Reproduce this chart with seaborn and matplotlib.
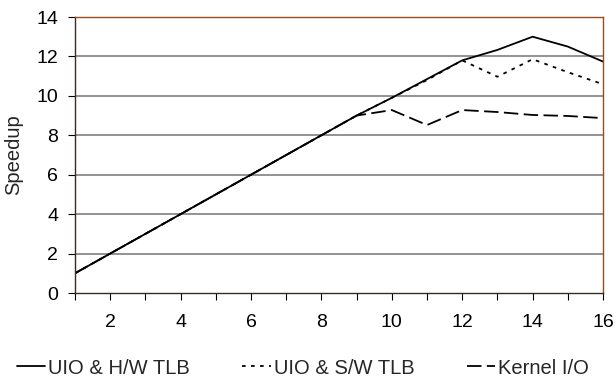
import numpy as np
import pandas as pd
import matplotlib.pyplot as plt
import seaborn as sns

# Data
threads = list(range(1, 17))
hw_tlb = [1, 2, 3, 4, 5, 6, 7, 8, 9, 9.9, 10.85, 11.8, 12.33, 13.0, 12.5, 11.74]
sw_tlb = [1, 2, 3, 4, 5, 6, 7, 8, 9, 9.9, 10.8, 11.8, 10.97, 11.86, 11.2, 10.59]
kernel_io = [1, 2, 3, 4, 5, 6, 7, 8, 9, 9.28, 8.52, 9.28, 9.18, 9.03, 8.98, 8.87]
series_names = ["UIO & H/W TLB", "UIO & S/W TLB", "Kernel I/O"]

df = pd.DataFrame({
    "threads": threads * 3,
    "speedup": hw_tlb + sw_tlb + kernel_io,
    "series": np.repeat(series_names, len(threads)),
})

sns.set_theme(style="white")
plt.rcParams['font.family'] = ['Liberation Sans', 'DejaVu Sans']

fig = plt.figure(figsize=(6.16, 3.81), dpi=100)
ax = fig.add_axes([75 / 616, 88 / 381, 528 / 616, 276 / 381])

# horizontal grid lines
for yv in range(2, 14, 2):
    ax.axhline(yv, color="#808080", linewidth=1.2, zorder=0)

sns.lineplot(
    data=df, x="threads", y="speedup", hue="series", style="series",
    palette={n: "black" for n in series_names},
    dashes={"UIO & H/W TLB": "", "UIO & S/W TLB": (2, 3), "Kernel I/O": (8, 3)},
    linewidth=1.3, ax=ax, legend=True,
)

ax.set_xlim(1, 16)
ax.set_ylim(0, 14)
ax.set_xticks(range(1, 17))
ax.set_xticklabels([str(t) if t % 2 == 0 else "" for t in threads])
ax.set_yticks(range(0, 15, 2))
ax.tick_params(axis="both", direction="out", length=5, width=0.8, colors="black",
               labelsize=14, bottom=True, left=True)
ax.tick_params(axis="x", pad=10)
ax.tick_params(axis="y", pad=7)
ax.set_xlabel("")
ax.set_ylabel("Speedup", fontsize=14.5)
ax.yaxis.set_label_coords(-0.0985, 0.5)

ax.spines["left"].set_color("#3a2a20")
ax.spines["bottom"].set_color("#3a2a20")
ax.spines["top"].set_color("#9c4a1a")
ax.spines["right"].set_color("#9c4a1a")
for s in ax.spines.values():
    s.set_linewidth(1.0)

handles, labels = ax.get_legend_handles_labels()
ax.get_legend().remove()
fig.legend(handles, labels, ncol=3, frameon=False, loc="center left",
           bbox_to_anchor=(17 / 616, 13 / 381), fontsize=14.5,
           borderpad=0, borderaxespad=0,
           handlelength=1.4, handletextpad=0.15, columnspacing=2.6)

plt.savefig("out.png", dpi=100)
plt.close()
